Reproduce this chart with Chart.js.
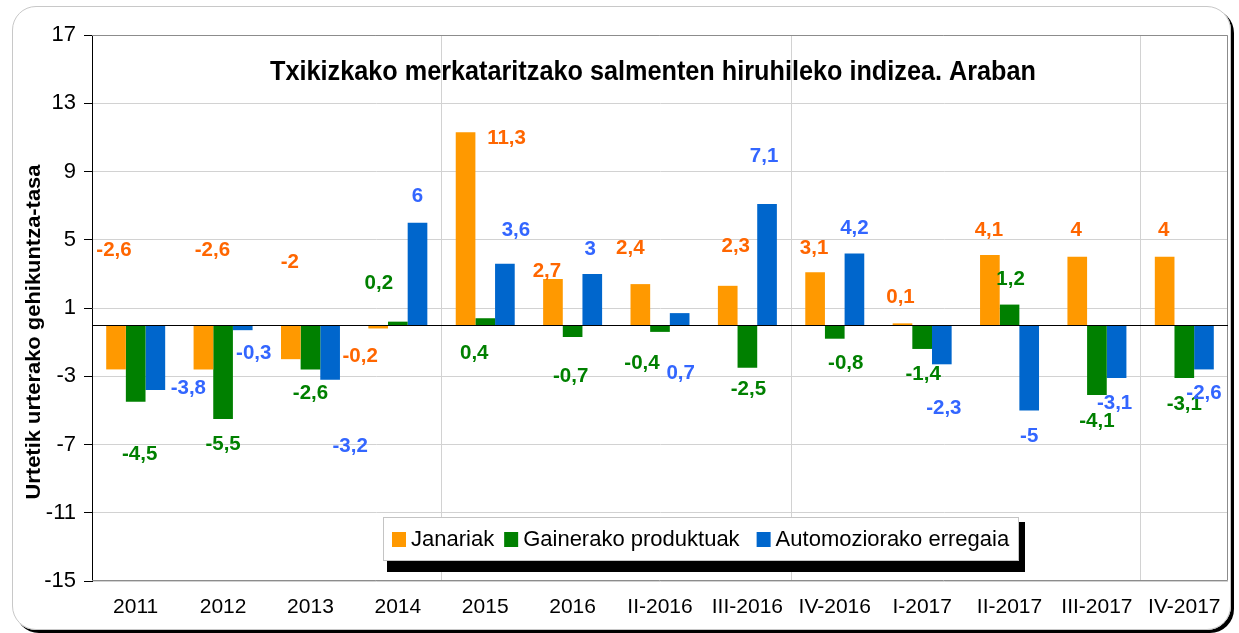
<!DOCTYPE html>
<html>
<head>
<meta charset="utf-8">
<title>Txikizkako merkataritza - Araba</title>
<script src="https://cdn.jsdelivr.net/npm/chart.js@4.4.1/dist/chart.umd.min.js"></script>
<style>
  html, body { margin: 0; padding: 0; background: #fff; }
  #marco {
    position: absolute; left: 12px; top: 6px;
    width: 1217px; height: 622px;
    border: 1px solid #c8c8c8; border-radius: 24px;
    box-shadow: 3px 3px 0 #000;
  }
  #wrap { position: absolute; left: 0; top: 0; width: 1239px; height: 633px; }
</style>
</head>
<body>
<div id="marco"></div>
<div id="wrap"><canvas id="grafico" width="1239" height="633"></canvas></div>
<script>
// datuak
const categorias = ['2011', '2012', '2013', '2014', '2015', '2016', 'II-2016', 'III-2016',
                    'IV-2016', 'I-2017', 'II-2017', 'III-2017', 'IV-2017'];
const janariak     = [-2.6, -2.6, -2, -0.2, 11.3, 2.7, 2.4, 2.3, 3.1, 0.1, 4.1, 4, 4];
const gainerakoak  = [-4.5, -5.5, -2.6, 0.2, 0.4, -0.7, -0.4, -2.5, -0.8, -1.4, 1.2, -4.1, -3.1];
const automozioa   = [-3.8, -0.3, -3.2, 6, 3.6, 3, 0.7, 7.1, 4.2, -2.3, -5, -3.1, -2.6];
const yTicks = [-15, -11, -7, -3, 1, 5, 9, 13, 17];

const titulo = 'Txikizkako merkataritzako salmenten hiruhileko indizea. Araban';
const tituloY = 'Urtetik urterako gehikuntza-tasa';

// etiketen desplazamendua (px) barraren puntatik
const despJan  = [[-2,-120],[9,-120],[-1,-98],[-18,27],[41,5],[-6,-9],[-10,-37],[8,-41],[-1,-25],[-2,-27],[-1,-26],[-1,-28],[-1,-28]];
const despGain = [[4,51],[0,24],[0,23],[-19,-40],[-11,34],[-2,38],[-18,30],[1,20],[11,23],[1,24],[1,-27],[0,25],[0,25]];
const despAuto = [[33,-3],[11,22],[20,65],[0,-28],[11,-35],[-2,-26],[1,59],[-3,-49],[0,-26],[2,43],[0,25],[-2,24],[0,23]];

const FAM = "'Liberation Sans', Arial, sans-serif";
const etiketaKolore = ['#FF6600', '#008000', '#3366FF'];
const desplazamenduak = [despJan, despGain, despAuto];

const fmt = v => String(v).replace('.', ',');

function testuEstua(ctx, txt, x, y, ancho) {
  // testua zabalera jakin batera estutu
  const w = ctx.measureText(txt).width;
  const sx = ancho ? ancho / w : 1;
  ctx.save();
  ctx.translate(x, y);
  ctx.scale(sx, 1);
  ctx.fillText(txt, 0, 0);
  ctx.restore();
}

const dibujoExtra = {
  id: 'dibujoExtra',
  afterDatasetsDraw(chart) {
    const { ctx, chartArea: a, scales: { y } } = chart;
    ctx.save();
    ctx.lineWidth = 1;
    // marko grisa
    ctx.strokeStyle = '#8c8c8c';
    ctx.beginPath();
    ctx.moveTo(a.left, a.top + 0.5);
    ctx.lineTo(a.right - 0.5, a.top + 0.5);
    ctx.lineTo(a.right - 0.5, a.bottom - 0.5);
    ctx.lineTo(a.left, a.bottom - 0.5);
    ctx.stroke();
    // zero lerroa
    const y0 = Math.round(y.getPixelForValue(0)) + 0.5;
    ctx.strokeStyle = '#000';
    ctx.beginPath();
    ctx.moveTo(a.left, y0);
    ctx.lineTo(a.right, y0);
    ctx.stroke();
    ctx.restore();
  },
  afterDraw(chart) {
    const { ctx } = chart;
    ctx.save();

    // izenburua
    ctx.fillStyle = '#000';
    ctx.font = 'bold 27px ' + FAM;
    ctx.textAlign = 'center';
    ctx.textBaseline = 'alphabetic';
    testuEstua(ctx, titulo, 653, 80, 766);

    // Y ardatzaren izenburua
    ctx.save();
    ctx.translate(40, 332);
    ctx.rotate(-Math.PI / 2);
    ctx.font = 'bold 21px ' + FAM;
    ctx.textAlign = 'center';
    testuEstua(ctx, tituloY, 0, 0, 335);
    ctx.restore();

    // datu etiketak
    ctx.font = 'bold 20.5px ' + FAM;
    ctx.textAlign = 'center';
    ctx.textBaseline = 'alphabetic';
    chart.data.datasets.forEach((ds, i) => {
      const meta = chart.getDatasetMeta(i);
      ctx.fillStyle = etiketaKolore[i];
      meta.data.forEach((bar, j) => {
        const [dx, dy] = desplazamenduak[i][j];
        ctx.fillText(fmt(ds.data[j]), bar.x + dx, bar.y + dy + 7);
      });
    });

    // legenda
    const lx = 383, ly = 517, lw = 636, lh = 44;
    ctx.fillStyle = '#000';
    ctx.fillRect(lx + 4, ly + 5, lw + 2, lh + 6);
    ctx.fillStyle = '#fff';
    ctx.fillRect(lx, ly, lw, lh);
    ctx.strokeStyle = '#c4c4c4';
    ctx.strokeRect(lx + 0.5, ly + 0.5, lw - 1, lh - 1);
    ctx.font = '22px ' + FAM;
    ctx.textAlign = 'left';
    let x = lx + 9;
    chart.data.datasets.forEach((ds, i) => {
      ctx.fillStyle = ds.backgroundColor;
      ctx.fillRect(x, ly + 15, 14, 15);
      ctx.fillStyle = '#000';
      ctx.fillText(ds.label, x + 19, ly + 29);
      x += 19 + ctx.measureText(ds.label).width + (i === 0 ? 10 : 17);
    });

    ctx.restore();
  }
};

new Chart(document.getElementById('grafico'), {
  type: 'bar',
  data: {
    labels: categorias,
    datasets: [
      { label: 'Janariak', data: janariak, backgroundColor: '#FF9900' },
      { label: 'Gainerako produktuak', data: gainerakoak, backgroundColor: '#008000' },
      { label: 'Automoziorako erregaia', data: automozioa, backgroundColor: '#0066CC' }
    ]
  },
  options: {
    responsive: false,
    animation: false,
    events: [],
    datasets: { bar: { categoryPercentage: 0.675, barPercentage: 1.0, borderWidth: 0 } },
    layout: { padding: { left: 0, right: 11, top: 35, bottom: 0 } },
    plugins: {
      legend: { display: false },
      tooltip: { enabled: false },
      title: { display: false }
    },
    scales: {
      x: {
        grid: {
          offset: true,
          drawTicks: false,
          color: c => (c.index > 0 && c.index % 4 === 0) ? '#d2d2d2' : 'rgba(0,0,0,0)'
        },
        border: { display: false },
        ticks: { color: '#000', font: { family: FAM, size: 21 }, padding: 14, maxRotation: 0, autoSkip: false },
        afterFit: s => { s.height = 52; }
      },
      y: {
        min: -15,
        max: 17,
        afterBuildTicks: s => { s.ticks = yTicks.map(v => ({ value: v })); },
        grid: { color: '#d2d2d2', tickColor: '#000', tickLength: 8 },
        border: { color: '#000' },
        ticks: { color: '#000', font: { family: FAM, size: 22 }, padding: 8 },
        afterFit: s => { s.width = 92; }
      }
    }
  },
  plugins: [dibujoExtra]
});
</script>
</body>
</html>
